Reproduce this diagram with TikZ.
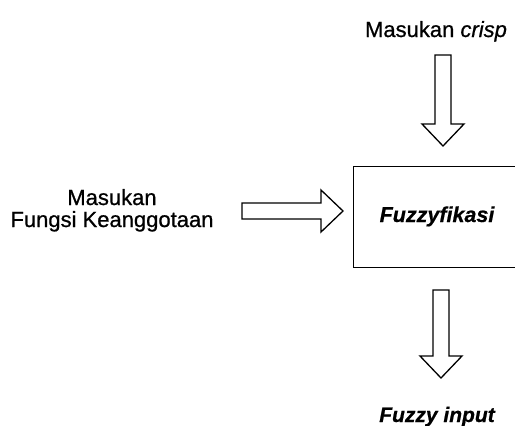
\documentclass[tikz,border=0pt]{standalone}
\usepackage{fontspec}
\setmainfont{Liberation Sans}[RawFeature={embolden=0.8}]
\newfontfamily\heavyfont{Liberation Sans}[RawFeature={embolden=0.6}]
\usetikzlibrary{calc}
\begin{document}
\begin{tikzpicture}[x=1pt,y=-1pt,
  lbl/.style={font=\fontsize{22}{24}\selectfont, inner sep=0pt, anchor=base},
  lblbi/.style={lbl, font=\fontsize{21.5}{23}\heavyfont\bfseries\itshape},
  frame/.style={draw, line width=1.3pt, line cap=rect},
  blk/.style={draw, line width=1.3pt, line join=miter, fill=white},
  pics/barrow/.style={code={
    \draw[blk] (0,-8) -- ({#1-22},-8) -- ({#1-22},-21) -- (#1,0)
      -- ({#1-22},21) -- ({#1-22},8) -- (0,8) -- cycle;}}]
\useasboundingbox (0,0) rectangle (515,426);

% labels
\node[lbl] (crisp) at (436,37) {Masukan \textit{crisp}};
\node[lbl] (mf1) at (112,205) {Masukan};
\node[lbl] (mf2) at (112,227) {Fungsi Keanggotaan};

% process box; its right side lies beyond the page edge
\node[inner sep=0pt, minimum width=166pt, minimum height=100pt] (fz) at (437,217) {};
\draw[frame] (fz.north east) -- (fz.north west) -- (fz.south west) -- (fz.south east);
\node[lblbi] (fzt) at (437,222) {Fuzzyfikasi};

\node[lblbi, font=\fontsize{21}{23}\heavyfont\bfseries\itshape] (out) at (437,422) {Fuzzy input};

% block arrows
\coordinate (inA) at (443,55);
\coordinate (inB) at (242,211);
\coordinate (outA) at (441,290);
\pic[rotate=-90] at (inA) {barrow=91};
\pic at (inB) {barrow=101};
\pic[rotate=-90] at (outA) {barrow=88};
\end{tikzpicture}
\end{document}
